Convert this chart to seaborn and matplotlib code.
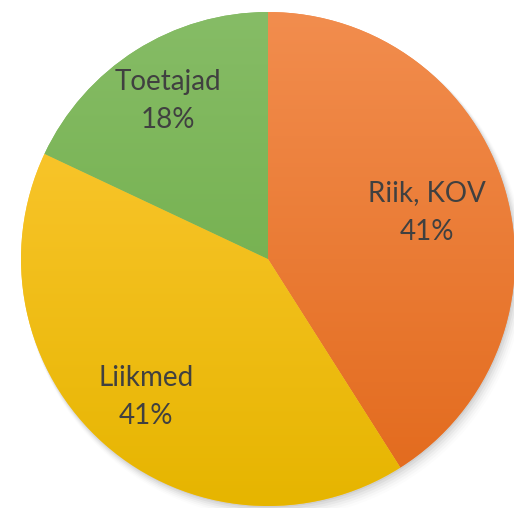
import numpy as np
import matplotlib
matplotlib.use("Agg")
import matplotlib.pyplot as plt
import seaborn as sns
from matplotlib.colors import LinearSegmentedColormap
from matplotlib.patches import Circle

categories = ["Riik, KOV", "Liikmed", "Toetajad"]
values = [41, 41, 18]
top_colors = ["#F28D4E", "#FFCA3A", "#86BC66"]
bottom_colors = ["#E2691B", "#E6B500", "#69A93F"]
label_dist = [0.67, 0.745, 0.757]

sns.set_theme(style="white")
plt.rcParams['font.family'] = ['Lato', 'DejaVu Sans']

fig = plt.figure(figsize=(5.14, 5.08), dpi=100)
ax = fig.add_axes([0, 0, 1, 1])
R = 247.0
cx, cy = 268.0, 259.0
ax.set_xlim(-cx / R, (514 - cx) / R)
ax.set_ylim(-(508 - cy) / R, cy / R)
ax.set_aspect('equal')
ax.axis('off')

# soft shadow
for i, a in enumerate(np.linspace(0.05, 0.01, 6)):
    ax.add_patch(Circle((0.004 * (i + 1), -0.006 * (i + 1)), 1.0 + 0.003 * i,
                        facecolor='black', alpha=a, edgecolor='none', zorder=0))

wedges, _ = ax.pie(values, startangle=90, counterclock=False, radius=1.0,
                   colors=top_colors, wedgeprops=dict(linewidth=0, edgecolor='none'))

grad = np.linspace(0, 1, 256).reshape(-1, 1)
for w, tc, bc in zip(wedges, top_colors, bottom_colors):
    cmap = LinearSegmentedColormap.from_list("g", [tc, bc])
    im = ax.imshow(grad, cmap=cmap, extent=[-1, 1, -1, 1], origin='upper',
                   aspect='auto', zorder=w.get_zorder() + 0.1)
    im.set_clip_path(w)

for w, name, v, d in zip(wedges, categories, values, label_dist):
    mid = np.deg2rad((w.theta1 + w.theta2) / 2)
    ax.text(d * np.cos(mid), d * np.sin(mid), f"{name}\n{v}%",
            ha='center', va='center', fontsize=20, color='#404040',
            linespacing=1.6, zorder=5)

ax.set_xlim(-cx / R, (514 - cx) / R)
ax.set_ylim(-(508 - cy) / R, cy / R)
fig.savefig("out.png", dpi=100)
